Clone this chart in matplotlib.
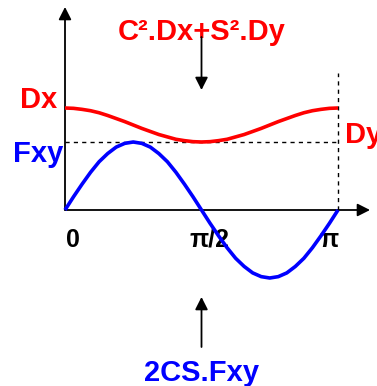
import numpy as np
import matplotlib
matplotlib.use("Agg")
import matplotlib.pyplot as plt

plt.rcParams['font.family'] = ['Liberation Sans', 'DejaVu Sans']

# Angle samples (0 .. pi) and the two curves read at those angles
theta = np.linspace(0, np.pi, 33)
normal_stiffness = [1.50, 1.495, 1.48, 1.46, 1.43, 1.39, 1.345, 1.30, 1.25,
                    1.20, 1.155, 1.11, 1.075, 1.04, 1.02, 1.005, 1.00,
                    1.005, 1.02, 1.04, 1.075, 1.11, 1.155, 1.20, 1.25,
                    1.30, 1.345, 1.39, 1.43, 1.46, 1.48, 1.495, 1.50]
coupling = [0.0, 0.195, 0.38, 0.555, 0.71, 0.83, 0.925, 0.98, 1.0,
            0.98, 0.925, 0.83, 0.71, 0.555, 0.38, 0.195, 0.0,
            -0.195, -0.38, -0.555, -0.71, -0.83, -0.925, -0.98, -1.0,
            -0.98, -0.925, -0.83, -0.71, -0.555, -0.38, -0.195, 0.0]

Dx, Dy, Fxy = 1.5, 1.0, 1.0
tick_pos = [0.0, np.pi / 2, np.pi]
tick_labels = ['0', 'π/2', 'π']

RED = '#ff0000'
BLUE = '#0000ff'

fig = plt.figure(figsize=(3.77, 3.86), dpi=100)
ax = fig.add_axes([0, 0, 1, 1])
ax.axis('off')
px = np.pi / 273.0   # one pixel along x
py = 1.0 / 68.0      # one pixel along y
ax.set_xlim(-65 * px, 312 * px)
ax.set_ylim(-176 * py, 210 * py)

arrow = dict(arrowstyle='-|>,head_length=0.75,head_width=0.38',
             mutation_scale=10, color='black', lw=1.3,
             shrinkA=0, shrinkB=0)

# axes with arrowheads
ax.annotate('', xy=(0, 203 * py), xytext=(0, 0), arrowprops=arrow, zorder=2)
ax.annotate('', xy=(305 * px, 0), xytext=(0, 0), arrowprops=arrow, zorder=2)

# reference dashed lines
ax.plot([0, np.pi], [Fxy, Fxy], color='black', lw=1.0,
        linestyle=(0, (3, 3)), zorder=1)
ax.plot([np.pi, np.pi], [0, 2.02], color='black', lw=1.0,
        linestyle=(0, (3, 3)), zorder=1)

# curves
ax.plot(theta, normal_stiffness, color=RED, lw=2.6,
        solid_capstyle='butt', zorder=3)
ax.plot(theta, coupling, color=BLUE, lw=2.6,
        solid_capstyle='butt', zorder=4)

bold = dict(fontweight='bold', fontsize=21)

ax.text(-8 * px, Dx, 'Dx', color=RED, ha='right', va='baseline', **bold)
ax.text(-2 * px, 0.70, 'Fxy', color=BLUE, ha='right', va='baseline', **bold)
ax.text(np.pi + 7 * px, Dy - 0.02, 'Dy', color=RED, ha='left',
        va='baseline', **bold)

ax.text(np.pi / 2, 2.50, 'C².Dx+S².Dy', color=RED, ha='center',
        va='baseline', zorder=1, **bold)
ax.text(np.pi / 2, -2.51, '2CS.Fxy', color=BLUE, ha='center',
        va='baseline', **bold)

# explanatory arrows
ax.annotate('', xy=(np.pi / 2, 120 * py), xytext=(np.pi / 2, 173 * py),
            arrowprops=arrow, zorder=5)
ax.annotate('', xy=(np.pi / 2, -87 * py), xytext=(np.pi / 2, -137 * py),
            arrowprops=arrow, zorder=5)

# angle labels
offsets = [8 * px, 8 * px, -9 * px]
for pos, lab, off in zip(tick_pos, tick_labels, offsets):
    ax.text(pos + off, -0.54, lab, color='black', ha='center',
            va='baseline', fontweight='bold', fontsize=18, zorder=2)

fig.savefig('out.png', dpi=100)
